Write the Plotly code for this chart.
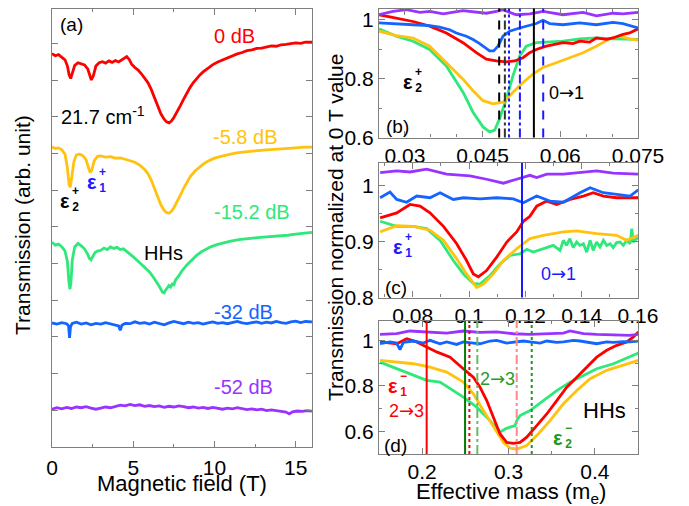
import plotly.graph_objects as go

# The page adds an 8 px body margin at the top/left, so every position below is given
# in window pixels and shifted by that margin.
WIN_W, WIN_H = 689, 506
PAD = 8
W, H = WIN_W - PAD, WIN_H - PAD
FONT = "Arial, Liberation Sans, sans-serif"

RED = "#ff0000"
YEL = "#ffc20e"
GRN = "#2ee87a"
BLU = "#1464ff"
PUR = "#9933ff"

# ---------------- panel (a): transmission vs magnetic field (offset traces) ----------------
red_a_T = [0,0.2,0.4,0.6,0.8,0.95,1.05,1.15,1.25,1.4,1.6,1.8,2.0,2.2,2.32,2.42,2.55,2.7,2.9,3.1,3.3,3.5,3.7,3.9,4.1,4.3,4.45,4.6,4.75,4.9,5.1,5.3,5.5,5.7,5.9,6.1,6.3,6.5,6.7,6.9,7.05,7.2,7.35,7.5,7.7,7.9,8.1,8.3,8.5,8.7,8.9,9.1,9.3,9.6,9.9,10.2,10.5,10.8,11.1,11.4,11.7,12.0,12.3,12.6,12.9,13.2,13.5,13.8,14.1,14.4,14.7,15.0,15.3,15.6,16.0]
red_a_y = [10.72,10.66,10.69,10.63,10.55,10.38,10.15,10.04,10.18,10.40,10.47,10.44,10.41,10.30,10.10,10.00,10.12,10.38,10.47,10.50,10.46,10.52,10.48,10.53,10.49,10.55,10.60,10.64,10.56,10.43,10.34,10.27,10.17,10.06,9.93,9.75,9.53,9.30,9.08,8.93,8.86,8.83,8.88,8.98,9.13,9.30,9.48,9.65,9.80,9.93,10.04,10.14,10.22,10.32,10.42,10.49,10.55,10.60,10.66,10.71,10.75,10.80,10.82,10.86,10.87,10.90,10.93,10.92,10.96,10.97,10.99,11.01,11.00,11.03,11.03]

yel_a_T = [0,0.2,0.4,0.6,0.8,0.95,1.05,1.12,1.2,1.35,1.5,1.7,1.9,2.1,2.25,2.35,2.45,2.6,2.8,3.0,3.3,3.6,3.9,4.2,4.5,4.8,5.1,5.4,5.7,5.9,6.1,6.3,6.5,6.7,6.9,7.05,7.2,7.35,7.5,7.7,7.9,8.1,8.3,8.5,8.8,9.1,9.4,9.7,10.0,10.4,10.8,11.2,11.6,12.0,12.5,13.0,13.5,14.0,14.5,15.0,15.5,16.0]
yel_a_y = [8.18,8.13,8.15,8.10,7.98,7.60,7.15,7.08,7.30,7.78,7.96,7.98,7.94,7.82,7.60,7.48,7.55,7.80,7.92,7.93,7.90,7.91,7.87,7.88,7.84,7.80,7.76,7.68,7.56,7.45,7.28,7.05,6.82,6.60,6.45,6.39,6.37,6.42,6.52,6.68,6.86,7.05,7.22,7.36,7.52,7.64,7.74,7.81,7.87,7.92,7.97,8.00,8.03,8.04,8.07,8.09,8.10,8.12,8.14,8.15,8.17,8.17]

grn_a_T = [0,0.2,0.4,0.6,0.8,0.95,1.03,1.1,1.16,1.25,1.4,1.6,1.8,2.0,2.2,2.3,2.4,2.5,2.65,2.8,3.0,3.2,3.4,3.6,3.8,4.0,4.2,4.4,4.6,4.8,5.0,5.2,5.4,5.6,5.8,6.0,6.2,6.4,6.6,6.8,6.9,7.0,7.1,7.2,7.3,7.4,7.5,7.6,7.8,8.0,8.3,8.6,8.9,9.2,9.5,9.8,10.2,10.6,11.0,11.5,12.0,12.5,13.0,13.5,14.0,14.5,15.0,15.5,16.0]
grn_a_y = [5.58,5.50,5.53,5.46,5.34,5.05,4.55,4.30,4.45,5.10,5.45,5.55,5.48,5.40,5.25,5.14,5.10,5.18,5.30,5.34,5.36,5.42,5.38,5.45,5.41,5.44,5.38,5.40,5.33,5.27,5.18,5.10,5.02,4.95,4.86,4.77,4.65,4.52,4.38,4.22,4.20,4.28,4.33,4.40,4.36,4.44,4.42,4.55,4.66,4.80,4.96,5.10,5.22,5.32,5.40,5.46,5.52,5.57,5.61,5.65,5.68,5.70,5.72,5.73,5.76,5.77,5.80,5.82,5.85]

blu_a_T = [0,0.3,0.6,0.9,1.02,1.08,1.14,1.25,1.5,1.8,2.1,2.4,2.7,3.0,3.3,3.6,3.9,4.1,4.2,4.3,4.5,4.8,5.1,5.4,5.7,6.0,6.3,6.6,6.9,7.2,7.5,7.8,8.1,8.4,8.7,9.0,9.3,9.6,9.9,10.2,10.5,10.8,11.1,11.4,11.7,12.0,12.3,12.6,12.9,13.2,13.5,13.8,14.1,14.4,14.7,15.0,15.3,15.6,16.0]
blu_a_y = [3.38,3.35,3.39,3.36,3.30,2.97,3.28,3.37,3.40,3.35,3.38,3.33,3.37,3.35,3.39,3.36,3.34,3.30,3.18,3.32,3.37,3.36,3.41,3.37,3.39,3.35,3.40,3.36,3.33,3.38,3.42,3.39,3.36,3.40,3.37,3.39,3.35,3.38,3.41,3.37,3.39,3.36,3.40,3.42,3.38,3.36,3.39,3.41,3.37,3.40,3.38,3.42,3.39,3.37,3.41,3.43,3.39,3.42,3.41]

pur_a_T = [0,0.3,0.6,0.9,1.2,1.5,1.8,2.1,2.4,2.7,3.0,3.3,3.6,3.9,4.2,4.5,4.8,5.1,5.4,5.7,6.0,6.3,6.6,6.9,7.2,7.5,7.8,8.1,8.4,8.7,9.0,9.3,9.6,9.9,10.2,10.5,10.8,11.1,11.4,11.7,12.0,12.3,12.6,12.9,13.2,13.5,13.8,14.1,14.4,14.6,14.8,15.1,15.4,15.7,16.0]
pur_a_y = [1.03,1.07,1.04,1.08,1.05,1.09,1.07,1.10,1.06,1.03,1.06,1.09,1.07,1.11,1.14,1.12,1.16,1.13,1.15,1.11,1.13,1.10,1.12,1.08,1.11,1.09,1.12,1.10,1.07,1.09,1.06,1.08,1.05,1.08,1.06,1.03,1.06,1.04,1.07,1.05,1.02,1.04,1.01,1.03,0.99,1.01,0.98,0.97,0.95,0.90,0.96,0.98,0.97,0.99,0.98]

# ---------------- panel (b) ----------------
pur_b_m = [0.025,0.0277,0.0303,0.0329,0.0348,0.0374,0.0412,0.0438,0.0457,0.0477,0.0489,0.0515,0.0541,0.0567,0.0605,0.0644,0.0670,0.0702,0.0721,0.075]
pur_b_y = [1.017,1.028,1.034,1.025,1.028,1.020,1.031,1.025,1.022,1.028,1.034,1.017,1.020,1.028,1.017,1.025,1.013,1.022,1.020,1.025]
blu_b_m = [0.025,0.02835,0.03156,0.03478,0.03671,0.03864,0.03993,0.04186,0.04315,0.04443,0.0454,0.04636,0.04714,0.04797,0.04894,0.05023,0.05216,0.05409,0.05537,0.05666,0.05795,0.06052,0.06374,0.06696,0.07017,0.0721,0.075]
blu_b_y = [0.989,0.987,0.983,0.980,0.975,0.966,0.955,0.944,0.933,0.919,0.905,0.894,0.894,0.910,0.944,0.961,0.972,0.980,0.987,0.998,0.987,0.983,0.989,0.983,0.991,0.987,0.972]
red_b_m = [0.025,0.02835,0.03156,0.03478,0.038,0.04122,0.04379,0.04572,0.04765,0.04958,0.05119,0.0528,0.05409,0.05537,0.0573,0.06052,0.06245,0.06374,0.06567,0.06696,0.06889,0.07017,0.0721,0.07339,0.075]
red_b_y = [1.017,1.006,0.994,0.978,0.955,0.922,0.888,0.866,0.860,0.857,0.860,0.871,0.888,0.899,0.910,0.922,0.919,0.927,0.924,0.938,0.933,0.938,0.950,0.955,0.969]
grn_b_m = [0.025,0.02835,0.03156,0.03478,0.038,0.04122,0.04315,0.04508,0.04636,0.04733,0.04829,0.04958,0.05087,0.05216,0.05344,0.05537,0.0573,0.06052,0.06374,0.06696,0.07017,0.075]
grn_b_y = [0.969,0.944,0.927,0.899,0.843,0.754,0.686,0.636,0.619,0.625,0.664,0.731,0.810,0.877,0.910,0.922,0.924,0.927,0.935,0.938,0.935,0.933]
yel_b_m = [0.025,0.02835,0.03156,0.03478,0.038,0.04122,0.04315,0.04508,0.04701,0.04894,0.05087,0.0528,0.05473,0.05666,0.05923,0.06181,0.06438,0.06696,0.06953,0.07146,0.07339,0.075]
yel_b_y = [0.961,0.946,0.938,0.910,0.854,0.798,0.759,0.725,0.714,0.720,0.754,0.787,0.815,0.838,0.854,0.871,0.888,0.910,0.935,0.944,0.935,0.931]
vl_b_m = [0.0482, 0.0493, 0.0501, 0.0522, 0.0549, 0.0567]
vl_b_color = ["#000000", "#333333", "#1a1aff", "#1a1aff", "#000000", "#1a1aff"]
vl_b_dash = ["dash", "dashdot", "dot", "dashdot", "solid", "dash"]

# ---------------- panel (c) ----------------
pur_c_m = [0.0684,0.0743,0.079,0.0849,0.092,0.1003,0.1062,0.1122,0.1169,0.1216,0.124,0.1276,0.1335,0.1394,0.1453,0.1512,0.1601]
pur_c_y = [1.023,1.026,1.024,1.029,1.020,1.017,1.011,1.004,1.011,1.018,1.014,1.020,1.020,1.023,1.026,1.022,1.020]
blu_c_m = [0.0684,0.0719,0.0743,0.0778,0.0814,0.0861,0.0897,0.0944,0.098,0.1039,0.1098,0.1157,0.1193,0.124,0.1287,0.1335,0.1394,0.1430,0.1477,0.1536,0.1572,0.1601]
blu_c_y = [0.978,0.988,0.975,0.970,0.981,0.978,0.987,0.975,0.978,0.976,0.978,0.976,0.969,0.981,0.972,0.970,0.987,0.996,0.987,0.984,0.981,0.992]
red_c_m = [0.0684,0.0743,0.079,0.0826,0.0861,0.0909,0.0956,0.0991,0.1015,0.1033,0.1062,0.1098,0.1134,0.1169,0.1193,0.1216,0.124,0.1276,0.1311,0.1359,0.1406,0.1441,0.1477,0.1524,0.1601]
red_c_y = [0.942,0.951,0.966,0.963,0.951,0.927,0.896,0.866,0.842,0.837,0.848,0.872,0.899,0.917,0.936,0.945,0.963,0.972,0.966,0.975,0.981,0.987,0.981,0.978,0.978]
grn_c_m = [0.0684,0.0743,0.0802,0.0849,0.0897,0.0944,0.098,0.1015,0.1039,0.1074,0.111,0.1145,0.1181,0.1205,0.1228,0.1264,0.1299,0.1323,0.1335,0.1346,0.1358,0.137,0.1382,0.1394,0.1406,0.1418,0.143,0.1441,0.1453,0.1465,0.1477,0.1489,0.1501,0.1512,0.1524,0.1536,0.1548,0.156,0.1572,0.1578,0.1583,0.1601]
grn_c_y = [0.936,0.927,0.927,0.923,0.902,0.866,0.842,0.825,0.824,0.839,0.860,0.875,0.878,0.886,0.881,0.887,0.893,0.884,0.902,0.893,0.905,0.889,0.899,0.893,0.896,0.881,0.902,0.884,0.899,0.890,0.902,0.893,0.896,0.889,0.898,0.899,0.893,0.902,0.896,0.923,0.899,0.908]
yel_c_m = [0.0684,0.0743,0.0802,0.0861,0.0909,0.0956,0.0991,0.1027,0.1051,0.1086,0.1122,0.1169,0.1216,0.1264,0.1335,0.1382,0.1453,0.1524,0.156,0.1601]
yel_c_y = [0.917,0.928,0.927,0.920,0.902,0.869,0.842,0.818,0.824,0.842,0.866,0.887,0.905,0.911,0.917,0.919,0.914,0.911,0.902,0.911]
vl_c_m = [0.1188]
vl_c_color = ["#1a1aff"]
vl_c_dash = ["solid"]

# ---------------- panel (d) ----------------
pur_d_m = [0.1512,0.1705,0.1859,0.2091,0.2284,0.2477,0.267,0.2863,0.3057,0.325,0.3443,0.3636,0.3713,0.3868,0.4022,0.4215,0.4408,0.4505]
pur_d_y = [1.026,1.029,1.041,1.037,1.032,1.041,1.035,1.037,1.029,1.026,1.029,1.032,1.041,1.029,1.026,1.024,1.022,1.026]
blu_d_m = [0.1512,0.1627,0.1705,0.1743,0.1782,0.1898,0.2014,0.2091,0.2207,0.2284,0.24,0.2477,0.2593,0.267,0.2786,0.2863,0.2979,0.3057,0.3172,0.325,0.3366,0.3443,0.3559,0.3636,0.3752,0.3829,0.3945,0.4022,0.4138,0.4215,0.4331,0.4408,0.4505]
blu_d_y = [0.985,0.993,0.988,0.959,0.991,0.997,0.988,1.000,0.985,0.993,0.982,0.993,0.988,0.985,0.997,1.000,0.988,0.991,0.997,0.993,0.988,0.997,0.991,0.993,1.000,0.997,0.990,0.985,0.993,0.991,0.994,0.993,0.997]
red_d_m = [0.1512,0.1705,0.1821,0.1936,0.2052,0.2168,0.2323,0.2439,0.2516,0.2593,0.267,0.2748,0.2825,0.2902,0.2979,0.3057,0.3134,0.3211,0.3327,0.3443,0.3559,0.3675,0.3791,0.3906,0.4022,0.4138,0.4254,0.437,0.4447,0.4505]
red_d_y = [0.993,0.985,1.007,0.993,0.971,0.949,0.926,0.890,0.862,0.838,0.794,0.735,0.662,0.588,0.551,0.547,0.551,0.574,0.625,0.676,0.735,0.794,0.838,0.882,0.926,0.956,0.978,0.993,1.015,1.037]
grn_d_m = [0.1512,0.1705,0.1898,0.2052,0.2207,0.2361,0.2477,0.2632,0.2786,0.2902,0.296,0.3018,0.3076,0.3095,0.3134,0.325,0.3404,0.3559,0.3713,0.3868,0.4022,0.4215,0.4408,0.4505]
grn_d_y = [0.904,0.875,0.846,0.824,0.816,0.779,0.750,0.706,0.647,0.596,0.610,0.618,0.625,0.647,0.669,0.691,0.735,0.779,0.816,0.846,0.875,0.897,0.926,0.944]
yel_d_m = [0.1512,0.1705,0.1898,0.2091,0.2284,0.2477,0.2593,0.2709,0.2825,0.2941,0.3018,0.3095,0.3211,0.3327,0.3481,0.3636,0.3791,0.3945,0.4138,0.4331,0.4505]
yel_d_y = [0.912,0.904,0.897,0.882,0.860,0.816,0.765,0.691,0.618,0.551,0.526,0.522,0.537,0.581,0.647,0.721,0.779,0.831,0.868,0.890,0.912]
vl_d_m = [0.2052, 0.2497, 0.2547, 0.2639, 0.3095, 0.3269]
vl_d_color = ["#ff0000", "#007a00", "#ff0000", "#66bb66", "#ff8888", "#1a9a1a"]
vl_d_dash = ["solid", "solid", "dot", "dashdot", "dashdot", "dot"]


def fx(px):
    return (px - PAD) / W


def fy(py):
    return 1 - (py - PAD) / H


fig = go.Figure()


def add(x, y, color, xa, ya, width=2.8):
    fig.add_trace(go.Scatter(x=x, y=y, mode="lines", xaxis=xa, yaxis=ya,
                             line=dict(color=color, width=width),
                             showlegend=False, hoverinfo="skip"))


# panel (a)
add(red_a_T, red_a_y, RED, "x", "y")
add(yel_a_T, yel_a_y, YEL, "x", "y")
add(grn_a_T, grn_a_y, GRN, "x", "y")
add(blu_a_T, blu_a_y, BLU, "x", "y")
add(pur_a_T, pur_a_y, PUR, "x", "y")
# panel (b)
add(grn_b_m, grn_b_y, GRN, "x2", "y2")
add(yel_b_m, yel_b_y, YEL, "x2", "y2")
add(red_b_m, red_b_y, RED, "x2", "y2")
add(blu_b_m, blu_b_y, BLU, "x2", "y2")
add(pur_b_m, pur_b_y, PUR, "x2", "y2")
# panel (c)
add(grn_c_m, grn_c_y, GRN, "x3", "y3")
add(yel_c_m, yel_c_y, YEL, "x3", "y3")
add(red_c_m, red_c_y, RED, "x3", "y3")
add(blu_c_m, blu_c_y, BLU, "x3", "y3")
add(pur_c_m, pur_c_y, PUR, "x3", "y3")
# panel (d)
add(grn_d_m, grn_d_y, GRN, "x4", "y4")
add(yel_d_m, yel_d_y, YEL, "x4", "y4")
add(red_d_m, red_d_y, RED, "x4", "y4")
add(blu_d_m, blu_d_y, BLU, "x4", "y4")
add(pur_d_m, pur_d_y, PUR, "x4", "y4")


def vlines(vals, colors, dashes, xr, yr):
    for v, c, d in zip(vals, colors, dashes):
        fig.add_shape(type="line", xref=xr, yref=yr + " domain", x0=v, x1=v, y0=0, y1=1,
                      line=dict(color=c, width=2, dash=d), layer="above")


vlines(vl_b_m, vl_b_color, vl_b_dash, "x2", "y2")
vlines(vl_c_m, vl_c_color, vl_c_dash, "x3", "y3")
vlines(vl_d_m, vl_d_color, vl_d_dash, "x4", "y4")


def ann(text, x, y, color="black", size=20, angle=0, xanchor="center"):
    fig.add_annotation(text=text, x=fx(x), y=fy(y), xref="paper", yref="paper",
                       showarrow=False, textangle=angle, xanchor=xanchor, yanchor="middle",
                       font=dict(family=FONT, size=size, color=color))


def eps(x, y, sub, sup, color):
    # epsilon with stacked superscript / subscript
    ann("<b>ε</b>", x, y, color, 20)
    ann("<b>" + sup + "</b><br><b>" + sub + "</b>", x + 5, y - 2, color, 12, xanchor="left")


ARROW = '<span style="font-family:DejaVu Sans">→</span>'

# panel (a) labels
ann("(a)", 71, 25, "black", 19)
ann("0 dB", 234, 36, RED, 20)
ann("21.7 cm<sup>-1</sup>", 103, 115, "black", 20)
ann("-5.8 dB", 245, 137, YEL, 20)
eps(65, 201, "2", "+", "black")
eps(92, 182, "1", "+", "#1a1aff")
ann("-15.2 dB", 252, 212, GRN, 20)
ann("HHs", 163, 253, "black", 20)
ann("-32 dB", 243, 312, BLU, 20)
ann("-52 dB", 243, 387, PUR, 20)
# panel (b)
ann("(b)", 397, 127, "black", 19)
eps(408, 82, "2", "+", "black")
ann("0" + ARROW + "1", 566, 92, "black", 18)
# panel (c)
ann("(c)", 396, 287, "black", 19)
eps(398, 247, "1", "+", "#1a1aff")
ann("0" + ARROW + "1", 558, 273, "#1a1aff", 18)
# panel (d)
ann("(d)", 395, 445, "black", 19)
eps(393, 386, "1", "−", RED)
ann("2" + ARROW + "3", 406, 410, RED, 18)
ann("2" + ARROW + "3", 497, 378, "#2a9a2a", 18)
ann("HHs", 604, 410, "black", 22)
eps(558, 438, "2", "−", "#1a9a1a")

# axis titles
ann("Magnetic field (T)", 182, 483, "black", 22)
ann("Effective mass (m<sub>e</sub>)", 511, 493, "black", 22)
ann("Transmission (arb. unit)", 22, 225, "black", 21, angle=-90)
ann("Transmission normalized at 0 T value", 336, 228, "black", 21, angle=-90)

common = dict(showline=True, linecolor="#7f7f7f", linewidth=1.3, mirror="allticks",
              ticks="inside", ticklen=6, tickcolor="#7f7f7f", tickwidth=1.2,
              showgrid=False, zeroline=False, automargin=False,
              tickfont=dict(family=FONT, size=21, color="black"))
minor = lambda d: dict(dtick=d, tick0=0, ticks="inside", ticklen=3, tickcolor="#7f7f7f", showgrid=False)

XR = [fx(379), fx(638)]
TOP = 8.5  # first visible pixel row below the page margin

fig.update_layout(
    width=W, height=H, margin=dict(l=0, r=0, t=0, b=0, autoexpand=False),
    paper_bgcolor="white", plot_bgcolor="white", showlegend=False,
    xaxis=dict(domain=[fx(52), fx(312)], range=[0, 16], tickvals=[0, 5, 10, 15],
               ticktext=["0", "5", "10", "15"], minor=minor(2.5), anchor="y",
               ticklabelstandoff=2, **common),
    yaxis=dict(domain=[fy(447), fy(TOP)], range=[0, (447 - TOP) / 36.7], dtick=1, tick0=0,
               showticklabels=False, anchor="x", **common),
    xaxis2=dict(domain=XR, range=[0.025, 0.075], tickvals=[0.03, 0.045, 0.06, 0.075],
                ticktext=["0.03", "0.045", "0.06", "0.075"], minor=minor(0.005), anchor="y2",
                ticklabelstandoff=-1, **common),
    yaxis2=dict(domain=[fy(137.5), fy(TOP)], range=[0.6, 0.6 + (137.5 - TOP) * 0.45 / 132.5],
                tickvals=[0.6, 0.8, 1.0], ticktext=["0.6", "0.8", "1"], minor=minor(0.1),
                anchor="x2", **common),
    xaxis3=dict(domain=XR, range=[0.068, 0.16], tickvals=[0.08, 0.1, 0.12, 0.14, 0.16],
                ticktext=["0.08", "0.1", "0.12", "0.14", "0.16"], minor=minor(0.01), anchor="y3",
                ticklabelstandoff=-1, **common),
    yaxis3=dict(domain=[fy(297.5), fy(163)], range=[0.8, 1.04], tickvals=[0.8, 0.9, 1.0],
                ticktext=["0.8", "0.9", "1"], minor=minor(0.05), anchor="x3", **common),
    xaxis4=dict(domain=XR, range=[0.15, 0.45], tickvals=[0.2, 0.3, 0.4],
                ticktext=["0.2", "0.3", "0.4"], minor=minor(0.05), anchor="y4",
                ticklabelstandoff=-1, **common),
    yaxis4=dict(domain=[fy(454), fy(321)], range=[0.5, 1.085], tickvals=[0.6, 0.8, 1.0],
                ticktext=["0.6", "0.8", "1"], minor=minor(0.1), anchor="x4", **common),
)

fig.write_html("out.html", config={"displayModeBar": False})
